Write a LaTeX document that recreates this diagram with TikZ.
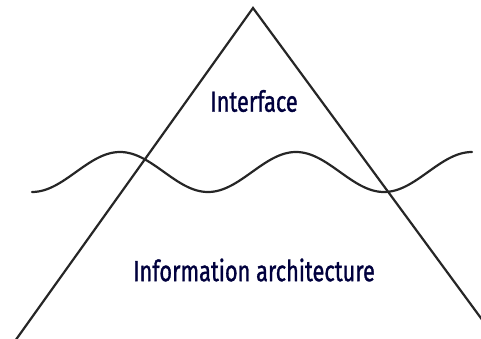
\documentclass[tikz,border=0pt]{standalone}
\usepackage{fontspec}
\setmainfont{Fira Sans}
\newfontfamily\lblfont{Fira Sans}[UprightFeatures={FakeBold=1.3}]
\begin{document}
\begin{tikzpicture}[x=1pt,y=1pt,
  edge/.style={line width=2.2pt,color=black!85,line join=miter},
  lbl/.style={text=black!70!blue!80!black,inner sep=0pt,font=\fontsize{29}{31}\selectfont\lblfont}]
\useasboundingbox (0,0) rectangle (481,338);
\clip (0,0) rectangle (481,338);
\coordinate (apex) at (253,330);
\coordinate (lend) at (15,-3);
\coordinate (rend) at (486,13);
\draw[edge] (lend) -- (apex) -- (rend);
\draw[edge,line cap=round] plot[domain=32:472,samples=200,smooth] (\x,{166-20*cos(2.04545*(\x-32))});
\node[lbl] (iface) at (254,237) {\scalebox{0.75}[1]{Interface}};
\node[lbl] (iarch) at (254,68) {\scalebox{0.75}[1]{Information architecture}};
\end{tikzpicture}
\end{document}
